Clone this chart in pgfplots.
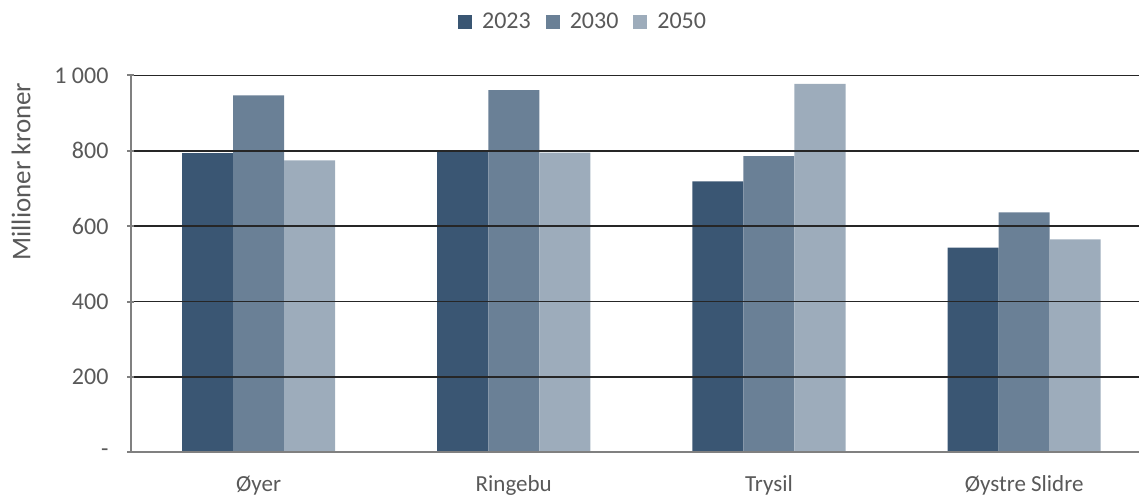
\documentclass[border=0pt]{standalone}
\usepackage{fontspec}
\setmainfont{Carlito}
\usepackage{pgfplots}
\pgfplotsset{compat=1.18}

\definecolor{cDark}{RGB}{58,86,115}
\definecolor{cMid}{RGB}{106,128,150}
\definecolor{cLight}{RGB}{157,172,187}
\definecolor{txt}{RGB}{89,89,89}
\definecolor{axgray}{RGB}{128,128,128}

\begin{document}
\begin{tikzpicture}
% 1 px of the reference = 0.5bp
\path[use as bounding box] (-65.5bp,-21.35bp) rectangle (504bp,226.15bp);
\begin{axis}[
  at={(0,0)}, anchor=south west,
  scale only axis,
  width=504bp, height=188.4bp,
  ybar, bar width=0.2,
  xmin=-0.5, xmax=3.45,
  ymin=0, ymax=1000,
  xtick={0,1,2,3},
  xticklabels={Øyer,Ringebu,Trysil,Øystre Slidre},
  ytick={0,200,400,600,800,1000},
  yticklabels={-,200,400,600,800,1 000},
  major x tick style={draw=none},
  ytick style={axgray, line width=1bp},
  tick align=outside,
  major tick length=3.5bp,
  axis x line=bottom, axis y line=left,
  axis line style={axgray, line width=1bp, -},
  ymajorgrids,
  grid style={black!85, line width=0.8bp},
  axis on top,
  clip=false,
  tick label style={txt},
  yticklabel style={font=\fontsize{12bp}{14bp}\selectfont, xshift=-6bp},
  xticklabel style={font=\fontsize{11.5bp}{13bp}\selectfont, yshift=-6.5bp},
  ylabel={Millioner kroner},
  ylabel style={at={(axis description cs:-0.109,0.745)}, anchor=center, rotate=0, txt, font=\fontsize{13.5bp}{15bp}\selectfont},
  legend columns=-1,
  legend style={draw=none, at={(axis description cs:0.4495,1.141)}, anchor=center,
    font=\fontsize{12bp}{14bp}\selectfont, text=txt,
    /tikz/every odd column/.append style={column sep=3bp},
    /tikz/every even column/.append style={column sep=5.5bp},
    inner sep=0pt},
  legend image code/.code={\fill[#1] (0bp,-3.5bp) rectangle (7bp,3.5bp);},
]
\addplot[fill=cDark, draw=none, bar shift=-0.2] coordinates {(0,794) (1,800) (2,719) (3,543)};
\addplot[fill=cMid, draw=none, bar shift=0] coordinates {(0,947) (1,961) (2,786) (3,637)};
\addplot[fill=cLight, draw=none, bar shift=0.2] coordinates {(0,775) (1,795) (2,978) (3,565)};
\legend{2023,2030,2050}
\end{axis}
\end{tikzpicture}
\end{document}
